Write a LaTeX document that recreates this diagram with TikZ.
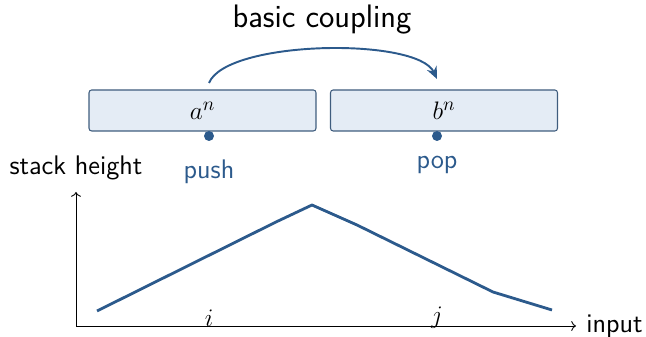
\documentclass[tikz,border=0pt]{standalone}
\usepackage{amsmath}
\usepackage{fontspec}
\usetikzlibrary{arrows.meta,positioning}
\definecolor{sblue}{HTML}{2C5A8C}
\definecolor{sfill}{HTML}{E4ECF5}
\definecolor{sedge}{HTML}{3F5D7E}

\begin{document}
\begin{tikzpicture}[x=0.02cm,y=0.02cm,font=\fontsize{15.3}{18}\sffamily,>=To,
seg/.style={draw=sedge,fill=sfill,line width=0.6pt,rounded corners=1.5pt,minimum width=4.54cm,minimum height=0.82cm,inner sep=0pt},
dot/.style={circle,fill=sblue,inner sep=0pt,minimum size=0.2cm},
lbl/.style={text=sblue,inner sep=1pt}]
\useasboundingbox (0,0) rectangle (646,337);
\node[font=\fontsize{18.5}{22}\sffamily] (title) at (322,317) {basic coupling};
\node[seg] (an) at (202.5,226.5) {$a^n$};
\node[seg] (bn) at (444,226.5) {$b^n$};
\node[dot] (pushdot) at (209,201) {};
\node[dot] (popdot) at (437,201) {};
\node[lbl,below=17.6pt of pushdot,anchor=center] (push) {push};
\node[lbl,below=13.6pt of popdot,anchor=center] (pop) {pop};
\coordinate (arcin) at (209,254);
\coordinate (arcout) at (437,258);
\draw[sblue,line width=1.1pt,-{Stealth[length=7pt,width=6pt]}] (arcin) to[out=68,in=115,looseness=0.52] (arcout);
% axes
\coordinate (o) at (76,11);
\coordinate (ytop) at (76,145);
\coordinate (xend) at (576,11);
\draw[->,line width=0.5pt] (o)--(ytop);
\draw[->,line width=0.5pt] (o)--(xend);
\node[anchor=west,inner sep=0pt,xshift=0.2cm] (input) at (xend) {input};
\node (height) at (76,169) {stack height};
\node (i) at (209,19) {$i$};
\node (j) at (437,19) {$j$};
% stack
\draw[sblue,line width=1.6pt,line join=round]
  (97,26)--(276,115)--(312,132)--(357,112)--(493,45)--(552,27);
\end{tikzpicture}
\end{document}
